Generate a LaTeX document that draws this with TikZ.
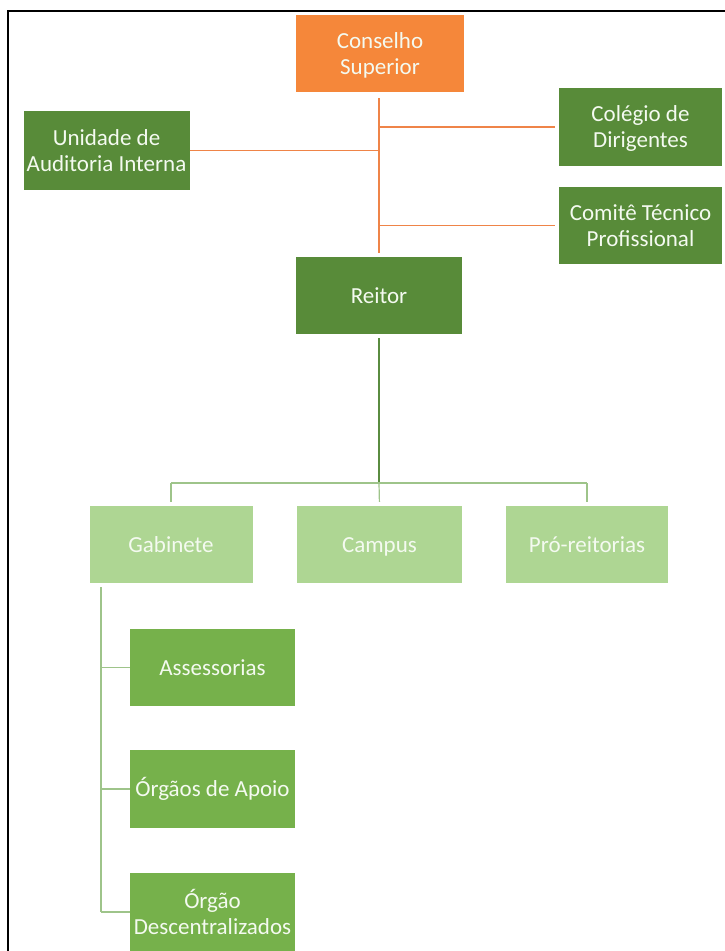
\documentclass[tikz,border=0pt]{standalone}
\usepackage{fontspec}
\setmainfont{Carlito}
\definecolor{orangebox}{HTML}{F5873A}
\definecolor{darkgreen}{HTML}{588B39}
\definecolor{midgreen}{HTML}{76B14B}
\definecolor{lightgreen}{HTML}{AED693}
\definecolor{orangeline}{HTML}{EF8448}
\definecolor{darkline}{HTML}{5A8C40}
\definecolor{lightline}{HTML}{9EC48A}
\definecolor{boxtext}{HTML}{F4FAF0}
\begin{document}
\begin{tikzpicture}[x=1pt,y=-1pt,
  box/.style={rectangle, inner sep=0pt, align=center, text=boxtext,
    font=\fontsize{23}{26}\selectfont},
  one/.style={text height=18pt, text depth=3pt},
  two/.style={text depth=0pt},
  obox/.style={box, fill=orangebox},
  dbox/.style={box, fill=darkgreen},
  mbox/.style={box, fill=midgreen},
  lbox/.style={box, fill=lightgreen},
  oline/.style={draw=orangeline, line width=1.5pt},
  othin/.style={draw=orangeline, line width=1.1pt},
  dline/.style={draw=darkline, line width=2pt},
  lline/.style={draw=lightline, line width=1.2pt},
  frameline/.style={draw=black, line width=2.8pt}
]
\useasboundingbox (0,0) rectangle (725,951);
\fill[white] (0,0) rectangle (725,951);

% frame
\coordinate (f1) at (8,951);
\coordinate (f2) at (8,11);
\coordinate (f3) at (725,11);
\draw[frameline] (f1) -- (f2) -- (f3);

% nodes
\node[obox, two, minimum width=168pt, minimum height=77pt] (cons) at (380,53.5) {Conselho\\Superior};
\node[dbox, two, minimum width=166pt, minimum height=79pt] (unid) at (106.5,150.5) {Unidade de\\Auditoria Interna};
\node[dbox, two, minimum width=163pt, minimum height=78pt] (coleg) at (640.5,127) {Colégio de\\Dirigentes};
\node[dbox, two, minimum width=163pt, minimum height=77pt] (comite) at (640.5,225.5) {Comitê Técnico\\Profissional};
\node[dbox, one, minimum width=166pt, minimum height=77pt] (reitor) at (379,295.5) {Reitor};
\node[lbox, one, minimum width=163pt, minimum height=77pt] (gab) at (171,544.5) {Gabinete};
\node[lbox, one, minimum width=165pt, minimum height=77pt] (campus) at (379.5,544.5) {Campus};
\node[lbox, one, minimum width=162pt, minimum height=77pt] (pro) at (587,544.5) {Pró-reitorias};
\node[mbox, one, minimum width=165pt, minimum height=77pt] (asse) at (212.5,667.5) {Assessorias};
\node[mbox, one, minimum width=165pt, minimum height=78pt] (apoio) at (212.5,789) {Órgãos de Apoio};
\node[mbox, two, minimum width=165pt, minimum height=78pt] (desc) at (212.5,911.5) {Órgão\\Descentralizados};

% orange connectors
\coordinate (otop) at (379,98);
\coordinate (obot) at (379,253);
\draw[oline] (otop) -- (otop |- comite.west);
\draw[othin] (otop |- comite.west) -- (obot);
\draw[oline] (unid.east) -- (otop |- unid.east);
\draw[oline, shorten >=4pt] (otop |- coleg.west) -- (coleg.west);
\draw[oline, shorten >=4pt] (otop |- comite.west) -- (comite.west);

% reitor to second level
\coordinate (bus) at (379,483);
\draw[dline, shorten <=4pt] (reitor.south) -- (bus);
\draw[lline] (gab.north |- bus) -- (pro.north |- bus);
\draw[lline, shorten >=4pt] (gab.north |- bus) -- (gab.north);
\draw[lline, shorten >=4pt] (bus) -- (campus.north);
\draw[lline, shorten >=4pt] (pro.north |- bus) -- (pro.north);

% gabinete subtree
\coordinate (gtop) at (101,587);
\coordinate (gbot) at (101,912);
\draw[lline] (gtop) -- (gbot);
\draw[lline] (gtop |- asse.west) -- (asse.west);
\draw[lline] (gtop |- apoio.west) -- (apoio.west);
\draw[lline] (gbot) -- (desc.west |- gbot);
\end{tikzpicture}
\end{document}
